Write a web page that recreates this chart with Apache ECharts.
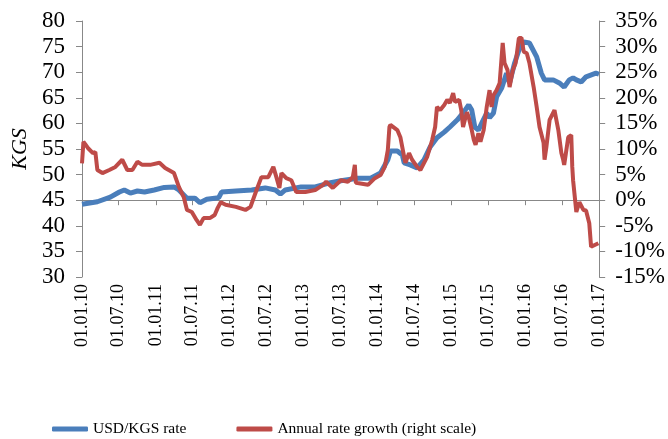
<!DOCTYPE html>
<html>
<head>
<meta charset="utf-8">
<script src="https://cdn.jsdelivr.net/npm/echarts@6/dist/echarts.min.js"></script>
<style>
  html, body { margin: 0; padding: 0; background: #fff; }
  #chart { width: 668px; height: 439px; }
</style>
</head>
<body>
<div id="chart"></div>
<script>
// USD/KGS exchange rate (left scale, KGS)
var usdDates = [
  '2010-01-01','2010-01-06','2010-03-18','2010-05-21','2010-07-05','2010-07-29','2010-08-28',
  '2010-10-02','2010-11-06','2010-12-24','2011-02-12','2011-04-01','2011-04-25','2011-06-04',
  '2011-07-13','2011-08-07','2011-09-10','2011-10-19','2011-11-08','2011-11-22','2012-02-01',
  '2012-04-19','2012-06-25','2012-08-14','2012-09-08','2012-10-02','2012-12-19','2013-02-27',
  '2013-05-01','2013-07-04','2013-09-25','2013-11-28','2014-01-16','2014-02-21','2014-03-06',
  '2014-04-09','2014-05-04','2014-05-13','2014-06-12','2014-07-16','2014-08-19','2014-09-18',
  '2014-10-22','2014-11-27','2014-12-25','2015-01-31','2015-03-03','2015-03-28','2015-04-12',
  '2015-04-27','2015-05-15','2015-06-01','2015-06-25','2015-07-09','2015-07-28','2015-08-13',
  '2015-09-07','2015-10-01','2015-10-16','2015-11-10','2015-12-01','2015-12-25','2016-01-22',
  '2016-02-27','2016-03-21','2016-04-06','2016-05-19','2016-06-18','2016-07-12','2016-08-06',
  '2016-08-25','2016-09-10','2016-10-04','2016-10-28','2016-12-16','2016-12-31'
];
var usdRate = [
  44.2, 44.1, 44.7, 45.6, 46.6, 47.0, 46.4,
  46.8, 46.6, 47.0, 47.5, 47.6, 47.0, 45.4,
  45.4, 44.5, 45.2, 45.4, 45.5, 46.6, 46.8,
  47.0, 47.4, 47.0, 46.2, 47.0, 47.6, 47.6,
  48.3, 48.8, 49.3, 49.3, 50.3, 52.9, 54.6,
  54.6, 53.8, 52.3, 51.9, 51.3, 52.9, 55.4,
  57.2, 58.3, 59.3, 60.7, 62.2, 63.6, 62.6,
  59.3, 58.7, 60.1, 62.0, 61.1, 62.0, 65.2,
  66.9, 69.8, 67.9, 71.8, 74.3, 75.9, 75.7,
  73.0, 69.8, 68.5, 68.5, 67.9, 67.1, 68.5,
  68.9, 68.5, 68.1, 69.1, 69.8, 69.6
];

// Year-on-year change of the rate (right scale, %)
var growthDates = [
  '2010-01-01','2010-01-08','2010-01-16','2010-01-30','2010-02-24','2010-03-08','2010-03-18',
  '2010-04-12','2010-05-16','2010-06-15','2010-07-19','2010-08-13','2010-09-07','2010-10-02',
  '2010-10-26','2010-12-04','2011-01-19','2011-02-16','2011-04-01','2011-04-25','2011-05-19',
  '2011-06-04','2011-06-28','2011-07-22','2011-08-07','2011-08-25','2011-09-25','2011-10-19',
  '2011-11-03','2011-11-18','2011-12-12','2012-02-01','2012-03-19','2012-04-13','2012-05-13',
  '2012-06-06','2012-07-10','2012-08-04','2012-08-19','2012-09-03','2012-09-13','2012-10-07',
  '2012-11-01','2012-11-25','2013-01-09','2013-02-27','2013-04-07','2013-04-22','2013-05-25',
  '2013-07-04','2013-08-07','2013-09-01','2013-09-11','2013-09-16','2013-11-15','2013-12-19',
  '2014-01-16','2014-02-06','2014-02-21','2014-03-01','2014-03-06','2014-04-09','2014-04-24',
  '2014-05-13','2014-05-19','2014-06-06','2014-06-21','2014-07-16','2014-08-01','2014-09-03',
  '2014-09-28','2014-10-13','2014-10-22','2014-11-07','2014-11-27','2014-12-12','2014-12-25',
  '2015-01-10','2015-01-19','2015-02-09','2015-02-19','2015-02-28','2015-03-09','2015-03-19',
  '2015-03-28','2015-04-12','2015-04-22','2015-05-01','2015-05-15','2015-05-25','2015-06-10',
  '2015-06-25','2015-07-09','2015-07-19','2015-07-28','2015-08-13','2015-08-28','2015-09-12',
  '2015-09-21','2015-10-06','2015-10-16','2015-11-01','2015-11-15','2015-12-01','2015-12-14',
  '2015-12-25','2016-01-09','2016-01-22','2016-02-12','2016-02-27','2016-03-12','2016-04-01',
  '2016-04-06','2016-04-15','2016-05-01','2016-05-25','2016-06-13','2016-06-28','2016-07-07',
  '2016-07-12','2016-08-01','2016-08-16','2016-08-21','2016-08-25','2016-09-10','2016-09-25',
  '2016-10-15','2016-10-28','2016-11-13','2016-11-22','2016-12-28','2016-12-31'
];
var growthPct = [
  7.2, 11.4, 11.0, 10.2, 9.2, 9.4, 5.9,
  5.3, 5.9, 6.5, 7.9, 5.9, 5.9, 7.5,
  6.9, 6.9, 7.3, 6.3, 5.3, 2.6, 0.6,
  -1.9, -2.3, -3.9, -4.8, -3.5, -3.5, -2.9,
  -1.5, -0.4, -0.9, -1.3, -1.9, -1.3, 2.0,
  4.5, 4.5, 6.5, 4.5, 2.4, 5.3, 4.3,
  3.9, 1.6, 1.6, 2.0, 3.0, 3.6, 2.4,
  3.9, 3.6, 4.5, 6.9, 3.4, 3.0, 4.3,
  4.9, 6.5, 9.8, 14.3, 14.7, 13.7, 12.3,
  8.4, 7.3, 9.2, 7.9, 6.5, 5.9, 8.4,
  11.7, 14.3, 18.2, 17.6, 18.6, 19.6, 19.0,
  20.9, 19.2, 19.6, 17.6, 14.3, 15.7, 17.2,
  16.2, 13.7, 11.8, 10.8, 13.1, 11.4, 13.7,
  18.2, 21.5, 18.2, 20.5, 21.5, 22.9, 30.7,
  26.8, 25.4, 22.1, 25.4, 26.8, 31.7, 31.7,
  29.0, 28.7, 26.8, 22.1, 18.2, 14.3, 11.2,
  7.9, 10.4, 15.7, 17.6, 13.7, 9.2, 7.9,
  6.9, 12.3, 12.7, 6.5, 3.9, -2.3, -0.4,
  -1.9, -2.0, -4.5, -9.1, -8.4, -8.4
];

// Half-year tick dates on the date axis
var tickDates = [
  '2010-01-01','2010-07-01','2011-01-01','2011-07-01','2012-01-01','2012-07-01','2013-01-01',
  '2013-07-01','2014-01-01','2014-07-01','2015-01-01','2015-07-01','2016-01-01','2016-07-01',
  '2017-01-01'
];

var seriesNames = ['USD/KGS rate', 'Annual rate growth (right scale)'];

function toTime(s) {
  var p = s.split('-');
  return Date.UTC(+p[0], +p[1] - 1, +p[2]);
}
function pad(n) { return (n < 10 ? '0' : '') + n; }
function fmtDate(v) {
  var d = new Date(v);
  return pad(d.getUTCDate()) + '.' + pad(d.getUTCMonth() + 1) + '.' + pad(d.getUTCFullYear() % 100);
}

var tickTimes = tickDates.map(toTime);
var usdData = usdDates.map(function (d, i) { return [toTime(d), usdRate[i]]; });
var growthData = growthDates.map(function (d, i) { return [toTime(d), growthPct[i]]; });

var FONT = '"Liberation Serif", "Times New Roman", serif';
var AXIS_COLOR = '#888888';

var chart = echarts.init(document.getElementById('chart'), null, { renderer: 'canvas' });
chart.setOption({
  animation: false,
  backgroundColor: '#ffffff',
  textStyle: { fontFamily: FONT, color: '#000' },
  grid: { left: 82, right: 65, top: 21, bottom: 162, containLabel: false },
  legend: {
    top: 416,
    left: 47,
    itemWidth: 36,
    itemHeight: 5,
    itemGap: 50,
    icon: 'roundRect',
    textStyle: { fontFamily: FONT, fontSize: 15.5, color: '#000' },
    data: seriesNames
  },
  xAxis: {
    type: 'value',
    min: tickTimes[0],
    max: tickTimes[tickTimes.length - 1],
    axisLine: { lineStyle: { color: AXIS_COLOR, width: 1 } },
    axisTick: { show: true, length: 5, customValues: tickTimes, lineStyle: { color: AXIS_COLOR } },
    axisLabel: {
      customValues: tickTimes,
      rotate: 90,
      margin: 7,
      fontFamily: FONT,
      fontSize: 18,
      color: '#000',
      formatter: fmtDate
    },
    splitLine: { show: false }
  },
  yAxis: [
    {
      type: 'value',
      min: 30, max: 80, interval: 5,
      name: 'KGS',
      nameLocation: 'middle',
      nameGap: 50,
      nameRotate: 90,
      nameTextStyle: { fontFamily: FONT, fontSize: 22, fontStyle: 'italic', color: '#000' },
      axisLine: { show: true, lineStyle: { color: AXIS_COLOR } },
      axisTick: { show: true, length: 6, lineStyle: { color: AXIS_COLOR } },
      axisLabel: { fontFamily: FONT, fontSize: 23, color: '#000', margin: 17 },
      splitLine: { show: false }
    },
    {
      type: 'value',
      min: -15, max: 35, interval: 5,
      position: 'right',
      axisLine: { show: true, lineStyle: { color: AXIS_COLOR } },
      axisTick: { show: true, length: 6, lineStyle: { color: AXIS_COLOR } },
      axisLabel: { fontFamily: FONT, fontSize: 23, color: '#000', margin: 16, formatter: '{value}%' },
      splitLine: { show: false }
    }
  ],
  series: [
    {
      name: seriesNames[0],
      type: 'line',
      yAxisIndex: 0,
      data: usdData,
      showSymbol: false,
      symbol: 'none',
      lineStyle: { color: '#4a7ebb', width: 5 },
      itemStyle: { color: '#4a7ebb' }
    },
    {
      name: seriesNames[1],
      type: 'line',
      yAxisIndex: 1,
      data: growthData,
      showSymbol: false,
      symbol: 'none',
      lineStyle: { color: '#be4b48', width: 4 },
      itemStyle: { color: '#be4b48' }
    }
  ]
});
</script>
</body>
</html>
